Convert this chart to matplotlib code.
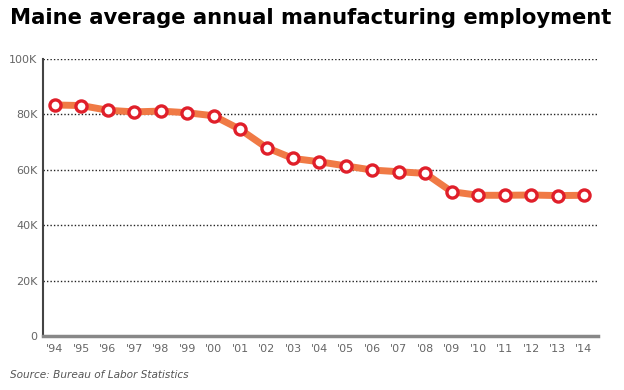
import matplotlib.pyplot as plt
import numpy as np

years = np.arange(1994, 2015)
year_labels = ["'94", "'95", "'96", "'97", "'98", "'99", "'00", "'01", "'02", "'03",
               "'04", "'05", "'06", "'07", "'08", "'09", "'10", "'11", "'12", "'13", "'14"]
# thousands of jobs
employment = [83.4, 83.2, 81.5, 80.9, 81.2, 80.6, 79.5, 74.6, 68.0, 64.1,
              62.9, 61.4, 59.9, 59.3, 58.7, 52.1, 50.8, 50.8, 50.9, 50.7, 50.8]
y_ticks = [0, 20, 40, 60, 80, 100]
y_tick_labels = ["0", "20K", "40K", "60K", "80K", "100K"]

fig = plt.figure(figsize=(6.24, 3.9), dpi=100)
ax = fig.add_axes([43 / 624, 54 / 390, 555 / 624, 277 / 390])

ax.plot(years, employment, color="#f07a45", lw=5, solid_capstyle="butt", zorder=3)
ax.plot(years, employment, ls="none", marker="o", ms=8, mfc="white",
        mec="#e01f2a", mew=2.4, zorder=4)

ax.set_xlim(1993.55, 2014.53)
ax.set_ylim(0, 100)
ax.set_xticks(years)
ax.set_xticklabels(year_labels)
ax.set_yticks(y_ticks)
ax.set_yticklabels(y_tick_labels)
ax.tick_params(length=0, labelsize=8, colors="#666666", pad=4)
ax.tick_params(axis="x", pad=6)

for v in y_ticks[1:]:
    ax.axhline(v, color="#222222", lw=1, ls=(0, (1, 1.5)), zorder=1)

for s in ["top", "right"]:
    ax.spines[s].set_visible(False)
ax.spines["left"].set_color("#444444")
ax.spines["left"].set_linewidth(1.5)
ax.spines["bottom"].set_color("#888888")
ax.spines["bottom"].set_linewidth(2.5)

fig.text(10 / 624, 1 - 18 / 390, "Maine average annual manufacturing employment",
         fontsize=15.2, fontweight="bold", color="black", va="center", ha="left")
fig.text(10 / 624, 1 - 375 / 390, "Source: Bureau of Labor Statistics",
         fontsize=7.6, style="italic", color="#555555", va="center", ha="left")

plt.savefig("out.png", dpi=100)
